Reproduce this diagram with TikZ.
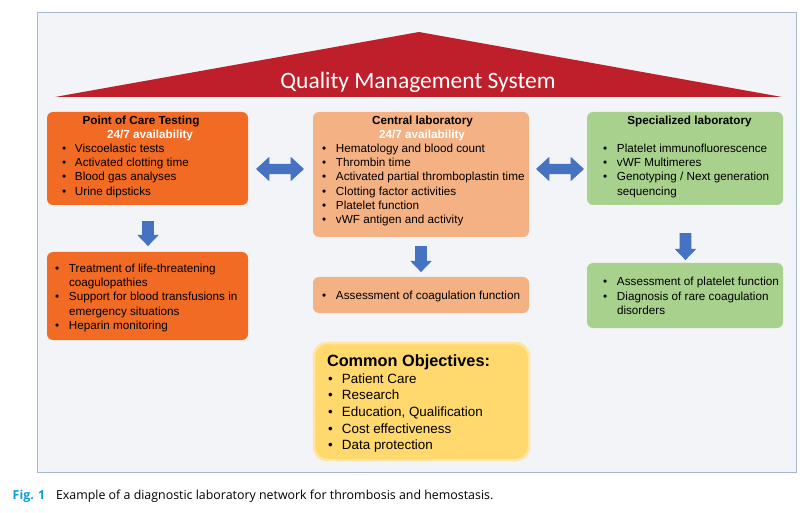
\documentclass[tikz,border=0pt]{standalone}
\usepackage{fontspec}
\setmainfont{Liberation Sans}
\newfontfamily\qmsfont{Carlito}
\newfontfamily\capfont{Open Sans}
\usetikzlibrary{shapes.arrows}
\definecolor{bgfill}{HTML}{F2F4F7}
\definecolor{frameblue}{HTML}{A8B7D2}
\definecolor{qmsred}{HTML}{BF1F2A}
\definecolor{pocor}{HTML}{F26B24}
\definecolor{cenor}{HTML}{F4B183}
\definecolor{spgreen}{HTML}{A9D18E}
\definecolor{ablue}{HTML}{4672C2}
\definecolor{objfill}{HTML}{FFD86E}
\definecolor{objedge}{HTML}{FFE6A2}
\definecolor{figblue}{HTML}{0A9AD6}
\newcommand{\bu}{\makebox[14pt][l]{\textbullet}}
\newcommand{\bup}{\makebox[13pt][l]{\textbullet}}
\newcommand{\ind}{\hspace*{14pt}}
\newcommand{\blines}[1]{\parbox[t]{260pt}{\fontsize{11.7}{14.2}\selectfont\raggedright #1}}
\newcommand{\olines}[1]{\parbox[t]{260pt}{\fontsize{13.4}{16.7}\selectfont\raggedright #1}}
\begin{document}
\begin{tikzpicture}[x=1pt,y=-1pt,
  every node/.style={inner sep=0pt, outer sep=0pt},
  font=\fontsize{11.7}{14.2}\selectfont,
  labbox/.style={rounded corners=6pt, anchor=north west},
  ttl/.style={font=\fontsize{11.7}{14.2}\selectfont\bfseries, anchor=base},
  avail/.style={font=\fontsize{11.7}{14.2}\selectfont\bfseries, text=white, anchor=base},
  items/.style={anchor=base west},
  dblarrow/.style={double arrow, fill=ablue, minimum height=48pt, inner xsep=0pt, inner ysep=5pt,
    double arrow head extend=7pt, double arrow tip angle=85},
  downarrow/.style={single arrow, fill=ablue, inner xsep=0pt, inner ysep=5.75pt,
    single arrow head extend=4.75pt, single arrow tip angle=88, rotate=-90}
]
\useasboundingbox (0,0) rectangle (809,513);
\draw[fill=bgfill, draw=frameblue, line width=1pt] (37,13) rectangle (796,472);
% QMS roof
\fill[qmsred] (55,97) -- (419,32) -- (782,97) -- cycle;
\node[anchor=base, text=white, font=\qmsfont\fontsize{23.5}{26}\selectfont] (qms) at (418,89) {Quality Management System};
% boxes
\node[labbox, fill=pocor, minimum width=201pt, minimum height=93pt] (poc) at (47,112) {};
\node[labbox, fill=pocor, minimum width=201pt, minimum height=88pt] (pocb) at (47,252) {};
\node[labbox, fill=cenor, minimum width=216pt, minimum height=125pt] (cen) at (313,112) {};
\node[labbox, fill=cenor, minimum width=216pt, minimum height=36pt] (cenb) at (313,277) {};
\node[labbox, fill=spgreen, minimum width=196pt, minimum height=93pt] (spe) at (587,112) {};
\node[labbox, fill=spgreen, minimum width=196pt, minimum height=65pt] (speb) at (587,263) {};
\node[anchor=north west, rounded corners=13pt, fill=objfill, draw=objedge, line width=2.5pt,
  minimum width=215pt, minimum height=117pt] (obj) at (314,343) {};
% texts POC
\node[ttl] (poct) at (141,124.5) {Point of Care Testing};
\node[avail] (poca) at (150,138.5) {24/7 availability};
\node[items] (poci) at (62,152.5) {\blines{\bup Viscoelastic tests\\ \bup Activated clotting time\\ \bup Blood gas analyses\\ \bup Urine dipsticks}};
\node[items] (pocbi) at (55,272.5) {\blines{\bu Treatment of life-threatening\\ \ind coagulopathies\\ \bu Support for blood transfusions in\\ \ind emergency situations\\ \bu Heparin monitoring}};
% texts central
\node[ttl] (cent) at (422.5,124.5) {Central laboratory};
\node[avail] (cena) at (422,138.5) {24/7 availability};
\node[items] (ceni) at (322,152.5) {\blines{\bu Hematology and blood count\\ \bu Thrombin time\\ \bu Activated partial thromboplastin time\\ \bu Clotting factor activities\\ \bu Platelet function\\ \bu vWF antigen and activity}};
\node[items] (cenbi) at (322,299.5) {\blines{\bu Assessment of coagulation function}};
% texts specialized
\node[ttl] (spet) at (689.5,124.5) {Specialized laboratory};
\node[items] (spei) at (603,152.5) {\blines{\bu Platelet immunofluorescence\\ \bu vWF Multimeres\\ \bu Genotyping / Next generation\\ \ind sequencing}};
\node[items] (spebi) at (603,286) {\blines{\bu Assessment of platelet function\\ \bu Diagnosis of rare coagulation\\ \ind disorders}};
% common objectives
\node[anchor=base west, font=\fontsize{16.3}{19}\selectfont\bfseries] (objt) at (327,366) {Common Objectives:};
\node[items] (obji) at (328,383) {\olines{\bu Patient Care\\ \bu Research\\ \bu Education, Qualification\\ \bu Cost effectiveness\\ \bu Data protection}};
% arrows
\node[dblarrow] (a1) at (280,169) {};
\node[dblarrow] (a2) at (560,169) {};
\node[downarrow, minimum height=25pt] (d1) at (148,230.5) {};
\node[downarrow, minimum height=26pt] (d2) at (421,256) {};
\node[downarrow, minimum height=27pt] (d3) at (685.5,243.5) {};
% caption
\node[anchor=base west, font=\capfont\fontsize{12.4}{14}\selectfont\bfseries, text=figblue] (fig) at (12.7,499) {Fig. 1};
\node[anchor=base west, font=\capfont\fontsize{12.4}{14}\selectfont] (cap) at (56,499) {Example of a diagnostic laboratory network for thrombosis and hemostasis.};
\end{tikzpicture}
\end{document}
